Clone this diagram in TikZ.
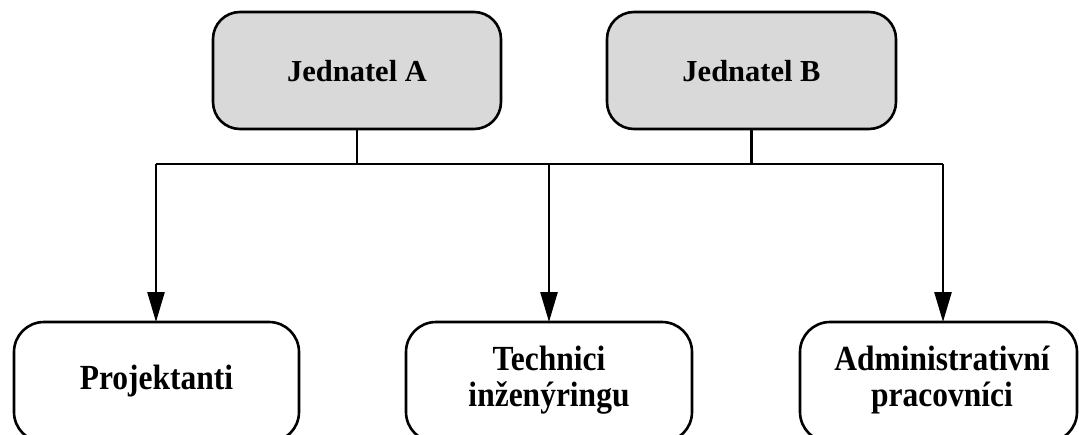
\documentclass[tikz,border=0pt]{standalone}
\usepackage{fontspec}
\setmainfont{Liberation Serif}
\usetikzlibrary{arrows.meta}
\tikzset{
  boss/.style={draw=black, line width=2.6pt, rounded corners=27pt, fill=black!15},
  dept/.style={draw=black, line width=2.6pt, rounded corners=30pt, fill=white},
  bosstext/.style={font=\bfseries\fontsize{30.5}{34}\selectfont},
  depttext/.style={align=center, font=\bfseries\fontsize{31.5}{32}\selectfont, yscale=1.12, transform shape},
  link/.style={line width=2.6pt},
  arr/.style={line width=2.6pt, -{Triangle[length=30pt,width=17pt]}},
}
\begin{document}
\begin{tikzpicture}[x=1pt,y=-1pt]
\useasboundingbox (0,0) rectangle (1079,434);
\fill[white] (0,0) rectangle (1079,434);
% top boxes
\draw[boss] (213,12) rectangle (501,129);
\node[bosstext] (A) at (357,71.5) {Jednatel A};
\draw[boss] (607,12) rectangle (896,129);
\node[bosstext] (B) at (751.5,71.5) {Jednatel B};
\coordinate (Ab) at (357,129);
\coordinate (Bb) at (751.5,129);
% bottom boxes
\draw[dept] (14,322) rectangle (299,442);
\node[depttext] (P) at (156.5,381) {Projektanti};
\draw[dept] (406,322) rectangle (692,442);
\node[depttext] (T) at (549,380) {Technici\\inženýringu};
\draw[dept] (800,322) rectangle (1077,442);
\node[depttext] (D) at (942,380) {Administrativní\\pracovníci};
% connectors
\coordinate (hA) at (357,164);
\coordinate (hB) at (751.5,164);
\coordinate (hL) at (156,164);
\coordinate (hM) at (549,164);
\coordinate (hR) at (943,164);
\coordinate (tP) at (156,322);
\coordinate (tT) at (549,322);
\coordinate (tD) at (943,322);
\draw[link] (Ab) -- (hA);
\draw[link] (Bb) -- (hB);
\draw[link] (hL) -- (hR);
\draw[arr] (hL) -- (tP);
\draw[arr] (hM) -- (tT);
\draw[arr] (hR) -- (tD);
\end{tikzpicture}
\end{document}
